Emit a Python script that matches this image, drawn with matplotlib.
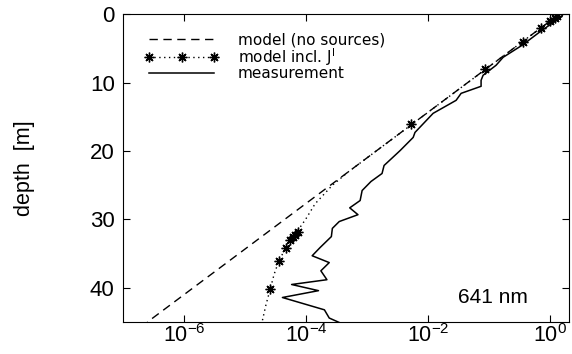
import matplotlib
matplotlib.use("Agg")
import matplotlib.pyplot as plt
from matplotlib.ticker import FixedLocator, NullLocator

plt.rcParams['font.family'] = 'Liberation Sans'
plt.rcParams['mathtext.fontset'] = 'custom'
plt.rcParams['mathtext.rm'] = 'Liberation Sans'

# model without sources (straight line in log space)
depth_nosrc = [0, 45]
val_nosrc = [1.41, 2.5e-7]

# model including inelastic sources J^I (line)
depth_model = [0, 10, 20, 23, 25, 27.7, 30, 31.2, 32.4, 34.1, 36, 38, 40.1, 42.5, 45]
val_model = [1.41, 0.0447, 1.41e-3, 5.0e-4, 2.7e-4, 1.41e-4, 9.8e-5, 7.9e-5,
             6.2e-5, 4.7e-5, 3.6e-5, 3.0e-5, 2.6e-5, 2.2e-5, 1.9e-5]

# model markers
depth_mark = [0.25, 0.5, 1, 2, 4, 8, 16, 31.8, 32.2, 32.6, 33.0, 34.1, 36, 40.1]
val_mark = [1.29, 1.2, 1.0, 0.71, 0.355, 0.085, 5.3e-3, 7.4e-5, 6.6e-5, 6.0e-5,
            5.4e-5, 4.7e-5, 3.6e-5, 2.6e-5]

# measurement
depth_meas = [0.0, 0.44, 2.34, 4.54, 6.3, 7.47, 8.93, 9.66, 10.54, 11.57, 12.59,
              14.49, 17.28, 18.01, 19.91, 20.35, 22.11, 23.28, 24.45, 25.77, 27.23,
              28.3, 29.3, 30.3, 31.3, 32.5, 34.1, 35.3, 36.3, 37.5, 38.8, 39.5,
              40.4, 41.4, 43.2, 44.4, 45.1]
val_meas = [1.63, 1.51, 0.74, 0.348, 0.17, 0.13, 0.0797, 0.0739, 0.0739, 0.0348,
            0.0288, 0.0121, 6.1e-3, 5.7e-3, 3.5e-3, 3.1e-3, 1.9e-3, 1.76e-3,
            1.16e-3, 8.3e-4, 7.7e-4, 5.2e-4, 7.1e-4, 3.5e-4, 2.7e-4, 2.6e-4,
            1.7e-4, 1.26e-4, 2.4e-4, 1.75e-4, 2.2e-4, 5.8e-5, 1.6e-4, 4.1e-5,
            2.0e-4, 2.4e-4, 3.6e-4]

xticks = [1e-6, 1e-4, 1e-2, 1e0]
xticklabels = [r'$\mathregular{10^{-6}}$', r'$\mathregular{10^{-4}}$',
               r'$\mathregular{10^{-2}}$', r'$\mathregular{10^{0}}$']
yticks = [0, 10, 20, 30, 40]

fig = plt.figure(figsize=(5.72, 3.54), dpi=100)
ax = fig.add_axes([0.215, 0.090, 0.78, 0.870])

ax.plot(val_nosrc, depth_nosrc, color='black', linestyle=(0, (6, 4)), linewidth=1.0,
        label='model (no sources)')
ax.plot(val_model, depth_model, color='black', linestyle=(0, (1, 2.5)), linewidth=1.0)
ax.plot(val_mark, depth_mark, color='black', linestyle='none', marker=(8, 2, 0),
        markersize=7, markeredgewidth=1.0)
# proxy for legend
ax.plot([], [], color='black', linestyle=(0, (1, 2.5)), linewidth=1.0,
        marker=(8, 2, 0), markersize=7, markeredgewidth=1.0,
        label=r'model incl. J$^{\mathregular{I}}$')
ax.plot(val_meas, depth_meas, color='black', linewidth=1.1, label='measurement')

ax.set_xscale('log')
ax.set_xlim(1e-7, 2.05)
ax.set_ylim(45, 0)
ax.xaxis.set_major_locator(FixedLocator(xticks))
ax.set_xticklabels(xticklabels)
ax.xaxis.set_minor_locator(NullLocator())
ax.set_yticks(yticks)
ax.tick_params(direction='in', length=5, width=0.8, labelsize=16,
               top=True, right=True)
ax.tick_params(axis='x', pad=1.5, labelsize=15.5)
ax.tick_params(axis='y', pad=6)
for s in ax.spines.values():
    s.set_linewidth(0.8)

leg = ax.legend(loc='upper left', bbox_to_anchor=(0.049, 0.94), frameon=False,
                handlelength=4.8, numpoints=3, labelspacing=-0.1,
                handletextpad=1.3, borderaxespad=0, borderpad=0,
                prop={'family': 'DejaVu Sans', 'size': 11})

ax.text(0.751, 0.062, '641 nm', transform=ax.transAxes, fontsize=15,
        va='baseline', ha='left')
fig.text(0.042, 0.525, 'depth  [m]', rotation=90, fontsize=15.5,
         va='center', ha='center')

fig.savefig('out.png', dpi=100)
